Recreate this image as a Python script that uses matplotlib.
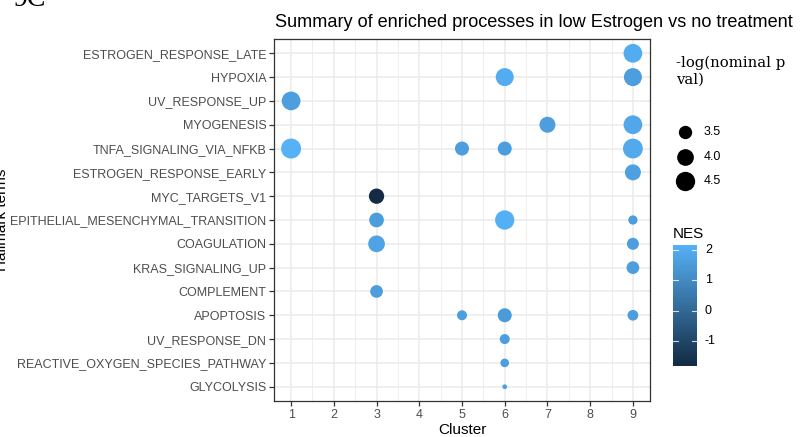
import numpy as np
import matplotlib
matplotlib.use("Agg")
import matplotlib.pyplot as plt
from matplotlib.colors import LinearSegmentedColormap, Normalize

# ---------------- data ----------------
terms = ["ESTROGEN_RESPONSE_LATE", "HYPOXIA", "UV_RESPONSE_UP", "MYOGENESIS",
         "TNFA_SIGNALING_VIA_NFKB", "ESTROGEN_RESPONSE_EARLY", "MYC_TARGETS_V1",
         "EPITHELIAL_MESENCHYMAL_TRANSITION", "COAGULATION", "KRAS_SIGNALING_UP",
         "COMPLEMENT", "APOPTOSIS", "UV_RESPONSE_DN",
         "REACTIVE_OXYGEN_SPECIES_PATHWAY", "GLYCOLYSIS"]

pt_term = ["ESTROGEN_RESPONSE_LATE",
           "HYPOXIA", "HYPOXIA",
           "UV_RESPONSE_UP",
           "MYOGENESIS", "MYOGENESIS",
           "TNFA_SIGNALING_VIA_NFKB", "TNFA_SIGNALING_VIA_NFKB",
           "TNFA_SIGNALING_VIA_NFKB", "TNFA_SIGNALING_VIA_NFKB",
           "ESTROGEN_RESPONSE_EARLY",
           "MYC_TARGETS_V1",
           "EPITHELIAL_MESENCHYMAL_TRANSITION", "EPITHELIAL_MESENCHYMAL_TRANSITION",
           "EPITHELIAL_MESENCHYMAL_TRANSITION",
           "COAGULATION", "COAGULATION",
           "KRAS_SIGNALING_UP",
           "COMPLEMENT",
           "APOPTOSIS", "APOPTOSIS", "APOPTOSIS",
           "UV_RESPONSE_DN",
           "REACTIVE_OXYGEN_SPECIES_PATHWAY",
           "GLYCOLYSIS"]
pt_cluster = [9,
              6, 9,
              1,
              7, 9,
              1, 5, 6, 9,
              9,
              3,
              3, 6, 9,
              3, 9,
              9,
              3,
              5, 6, 9,
              6,
              6,
              6]
pt_logp = [4.37,
           4.23, 4.23,
           4.37,
           3.88, 4.37,
           4.64, 3.59, 3.59, 4.60,
           3.88,
           3.77,
           3.68, 4.49, 3.12,
           4.00, 3.35,
           3.43,
           3.43,
           3.17, 3.59, 3.23,
           3.17,
           3.08,
           2.97]
pt_nes = [2.00,
          2.00, 1.60,
          1.60,
          1.60, 1.85,
          2.16, 1.60, 1.60, 1.90,
          1.65,
          -1.82,
          1.55, 2.10, 1.60,
          1.75, 1.60,
          1.60,
          1.60,
          1.60, 1.50, 1.60,
          1.60,
          1.60,
          1.60]

x_ticks = [1, 2, 3, 4, 5, 6, 7, 8, 9]
size_breaks = [3.5, 4.0, 4.5]
nes_breaks = [-1, 0, 1, 2]

# ---------------- styles ----------------
DPI = 100
W, H = 806, 437
cmap = LinearSegmentedColormap.from_list("gg", ["#132B43", "#56B1F7"])
nes_min, nes_max = min(pt_nes), max(pt_nes)
norm = Normalize(nes_min, nes_max)
lp_min, lp_max = min(pt_logp), max(pt_logp)

def diam_px(v):
    t = (np.asarray(v, float) - lp_min) / (lp_max - lp_min)
    return 4.7 + 15.3 * np.sqrt(np.clip(t, 0, None))

def area_pt2(v):
    return (diam_px(v) * 72.0 / DPI) ** 2

plt.rcParams['font.family'] = ['Liberation Sans', 'DejaVu Sans']
SERIF = ['DejaVu Serif', 'Liberation Serif']

fig = plt.figure(figsize=(W / DPI, H / DPI), dpi=DPI)

def fx(px):
    return px / W

def fy(py):
    return 1 - py / H

left, right, top, bottom = 274, 650, 39, 401
ax = fig.add_axes([fx(left), fy(bottom), fx(right - left), (bottom - top) / H])

ypos = {t: len(terms) - 1 - i for i, t in enumerate(terms)}
ys = [ypos[t] for t in pt_term]

ax.scatter(pt_cluster, ys, s=area_pt2(pt_logp), c=pt_nes, cmap=cmap, norm=norm,
           linewidths=0, zorder=3)

ax.set_xlim(0.6, 9.4)
ax.set_ylim(-0.6, len(terms) - 1 + 0.6)
ax.set_xticks(x_ticks)
ax.set_xticks(np.arange(1.5, 9.0, 1.0), minor=True)
ax.set_yticks(range(len(terms)))
ax.set_yticklabels(terms[::-1])
ax.grid(True, which='major', color='#EBEBEB', linewidth=1.1, zorder=0)
ax.grid(True, which='minor', axis='x', color='#EBEBEB', linewidth=0.6, zorder=0)
ax.set_axisbelow(True)
for sp in ax.spines.values():
    sp.set_color('#333333')
    sp.set_linewidth(0.9)
ax.tick_params(which='major', length=3.5, width=0.9, color='#333333',
               labelcolor='#4D4D4D', labelsize=9.0, pad=2)
ax.tick_params(which='minor', length=0)
ax.set_xlabel("Cluster", fontsize=11, color='black', labelpad=2)

fig.text(fx(275), fy(27), "Summary of enriched processes in low Estrogen vs no treatment",
         fontsize=13.1, ha='left', va='baseline', color='black')

fig.text(fx(9), fy(220), "Hallmark terms", rotation=90, fontsize=11,
         ha='right', va='center', color='black')

fig.text(fx(13), fy(6), "9C", fontsize=20, family=['Liberation Serif', 'DejaVu Serif'],
         ha='left', va='baseline', color='black')

# ---------------- size legend ----------------
fig.text(fx(676), fy(84), "-log(nominal p\nval)", fontsize=10.7,
         family=SERIF, ha='left', va='baseline',
         linespacing=1.25, color='black')
lax = fig.add_axes([0, 0, 1, 1], facecolor='none')
lax.set_xlim(0, W)
lax.set_ylim(H, 0)
lax.axis('off')
leg_y = [132, 157, 181]
for b, yy in zip(size_breaks, leg_y):
    lax.scatter([685], [yy], s=area_pt2(b), color='black', linewidths=0)
    lax.text(704, yy, f"{b:.1f}", fontsize=9.0, va='center', ha='left', color='black')

# ---------------- colorbar ----------------
fig.text(fx(673), fy(238), "NES", fontsize=11, ha='left', va='baseline', color='black')
cb_top, cb_bot, cb_l, cb_r = 245, 366, 673, 697
cax = fig.add_axes([fx(cb_l), fy(cb_bot), fx(cb_r - cb_l), (cb_bot - cb_top) / H])
grad = np.linspace(nes_min, nes_max, 256).reshape(-1, 1)
cax.imshow(grad, aspect='auto', cmap=cmap, norm=norm, origin='lower',
           extent=[0, 1, nes_min, nes_max])
cax.set_xlim(0, 1)
cax.set_ylim(nes_min, nes_max)
cax.set_xticks([])
cax.set_yticks([])
for sp in cax.spines.values():
    sp.set_visible(False)
for b in nes_breaks:
    cax.plot([0, 0.2], [b, b], color='white', lw=0.8, alpha=0.8)
    cax.plot([0.8, 1], [b, b], color='white', lw=0.8, alpha=0.8)
    cax.text(1.33, b, str(b), fontsize=9.0, va='center', ha='left', color='black',
             transform=cax.transData, clip_on=False)

fig.savefig("out.png", dpi=DPI)
